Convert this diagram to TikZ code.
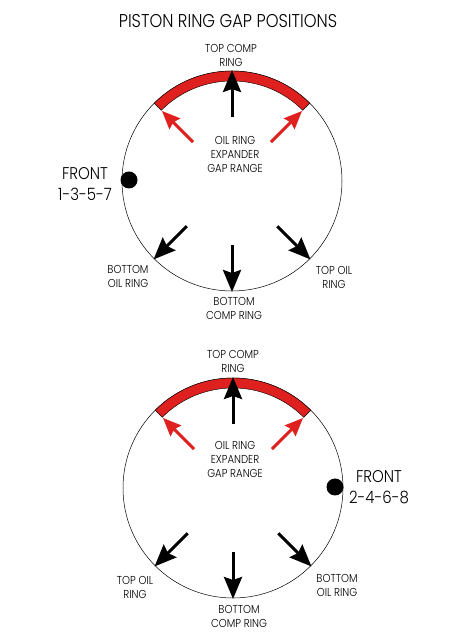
\documentclass[tikz,border=0pt]{standalone}
\usepackage{fontspec}
\setmainfont{Poppins}[UprightFont={* Light}, FakeStretch=0.88]
\usetikzlibrary{arrows.meta}
\definecolor{ringred}{rgb}{0.87,0.13,0.12}

\tikzset{
    lbl/.style={font=\fontsize{11.5}{14}\selectfont, align=center, inner sep=0pt},
    frontlbl/.style={font=\fontsize{17}{21}\selectfont, align=center, inner sep=0pt},
    gaparrow/.style={line width=3pt, -{Stealth[length=22pt,width=18pt,inset=3pt]}},
    exparrow/.style={ringred, line width=3pt, -{Stealth[length=18pt,width=15pt,inset=2pt]}},
    band/.style={fill=ringred, draw=black, line width=0.4pt},
}

\begin{document}
\begin{tikzpicture}[x=1pt,y=1pt]
    \useasboundingbox (0,0) rectangle (456,644);
    \node[font=\fontsize{18.5}{20}\selectfont, inner sep=0pt] (title) at (228,622.5) {PISTON RING GAP POSITIONS};

    % first ring: front 1-3-5-7
    \begin{scope}[shift={(232,463)}]
    \draw[line width=0.5pt] (0,0) circle (110);
    \draw[band] (45:110) arc (45:135:110) -- (135:100) arc (135:45:100) -- cycle; % expander range
    \foreach \a in {90,225,270,315}
    \draw[gaparrow] (\a:64)--(\a:111);
    \foreach \a in {45,135}
    \draw[exparrow] (\a:55)--(\a:99);
    \fill (-103,1) circle (8.5);
    \node[lbl] (topcomp1) at (-1,125.5) {TOP COMP\\RING};
    \node[lbl] (exp1) at (3,27) {OIL RING\\EXPANDER\\GAP RANGE};
    \node[lbl] (botoil1) at (-104,-95.5) {BOTTOM\\OIL RING};
    \node[lbl] (botcomp1) at (2,-127.5) {BOTTOM\\COMP RING};
    \node[lbl] (topoil1) at (102,-96.5) {TOP OIL\\RING};
    \node[frontlbl] (front1) at (-147,-3.5) {FRONT\\1-3-5-7};
    \end{scope}

    % second ring: front 2-4-6-8
    \begin{scope}[shift={(233,156)}]
    \draw[line width=0.5pt] (0,0) circle (110);
    \draw[band] (45:110) arc (45:135:110) -- (135:100) arc (135:45:100) -- cycle; % expander range
    \foreach \a in {90,225,270,315}
    \draw[gaparrow] (\a:64)--(\a:111);
    \foreach \a in {45,135}
    \draw[exparrow] (\a:55)--(\a:99);
    \fill (102,1) circle (8.5);
    \node[lbl] (topcomp2) at (0,127) {TOP COMP\\RING};
    \node[lbl] (exp2) at (2,29) {OIL RING\\EXPANDER\\GAP RANGE};
    \node[lbl] (topoil2) at (-98,-99.5) {TOP OIL\\RING};
    \node[lbl] (botoil2) at (104,-97.5) {BOTTOM\\OIL RING};
    \node[lbl] (botcomp2) at (6,-128.5) {BOTTOM\\COMP RING};
    \node[frontlbl] (front2) at (146,0.5) {FRONT\\2-4-6-8};
    \end{scope}
\end{tikzpicture}
\end{document}
